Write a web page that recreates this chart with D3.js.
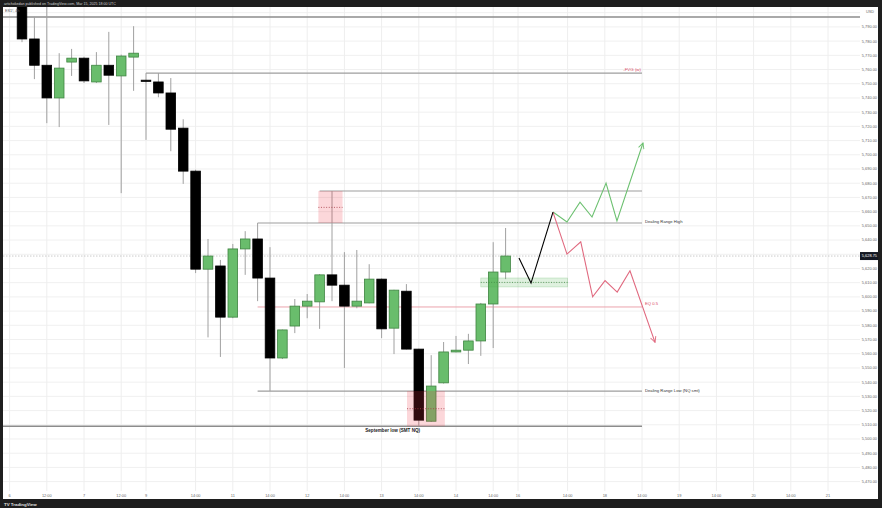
<!DOCTYPE html>
<html><head><meta charset="utf-8">
<script src="https://cdn.jsdelivr.net/npm/d3@7"></script>
<style>html,body{margin:0;padding:0;background:#1e1e1e;overflow:hidden}svg{display:block}</style>
</head><body><svg id="c" width="882" height="508"></svg>
<script>
// ---------- DATA ----------
const symbolLabel = "ES1!, 4h";
const headerText = "artichokedan published on TradingView.com, Mar 15, 2025 18:00 UTC";
const barIndex = d3.range(40);
const opens  = [5810,5781.5,5763,5740,5765.25,5768,5751.25,5763,5755.5,5768.75,5752.5,5751.25,5743.5,5718.75,5688.5,5619.5,5621.75,5585.75,5633.75,5640.75,5613.25,5557,5579.5,5593.5,5596.5,5615.5,5608.25,5593.5,5595.75,5612.5,5578,5604,5563.25,5512.5,5539.5,5561.25,5562.5,5569,5595,5617.5];
const highs  = [5815,5797,5806,5771.5,5774.5,5769,5772.25,5786.5,5770.5,5790.5,5757.5,5757.5,5754,5725,5689.5,5640.75,5626,5637.25,5646.25,5652,5635,5577,5598.5,5602,5616,5674.5,5631.5,5633,5623,5613,5605,5609,5563.5,5559,5568.25,5572.5,5574,5595.75,5638.5,5648.5];
const lows   = [5779.25,5753.25,5722.25,5719.5,5755.5,5750.5,5750.5,5721,5673,5745,5710.5,5740.5,5702.5,5679.5,5616.75,5571.5,5557.75,5585,5615.5,5597,5533.75,5556.25,5574.5,5585,5577.5,5597,5550,5592,5595.5,5571,5559.75,5563,5509,5512,5539,5561,5552.75,5558.5,5564,5612.5];
const closes = [5781.5,5763,5740,5761,5768,5752,5763,5756,5769.5,5771.5,5751.75,5743.5,5718,5688.5,5619.5,5628.75,5585.75,5633.75,5640.75,5613.25,5557,5576.75,5593.5,5597,5615.5,5608.25,5593.5,5597,5612.5,5577.5,5604.75,5563.25,5513.25,5537.25,5561.25,5562.5,5569,5595,5617.5,5628.75];

const timeTickIndex  = [-1,2,5,8,10,14,17,20,23,26,29,32,35,38,40,44,47,50,53,56,59,62,65];
const timeTickLabels = ["6","12:00","7","12:00","9","14:00","11","14:00","12","14:00","13","14:00","14","14:00","16","14:00","18","14:00","19","14:00","20","14:00","21"];
const priceTicks = d3.range(5470, 5791, 10);
const lastPrice = 5628.75;

// horizontal levels (price, start bar, end bar, label)
const levelPrices = [5797, 5757.5, 5674.5, 5652, 5592.9, 5533.75, 5509];
const levelStart  = [-2, 10, 24, 19, 19, 19, -2];
const levelEnd    = [67.6, 50, 50, 50, 50, 50, 50];
const levelLabels = ["", "-FVG (w)", "", "Dealing Range High", "EQ 0.5", "Dealing Range Low (NQ smt)", "September low (SMT NQ)"];

// zones: [barStart, barEnd, priceLow, priceHigh, midPrice]
const pinkZones  = [[23.9, 25.85, 5652, 5674.5, 5663], [31.05, 34.1, 5509, 5533.75, 5521.3]];
const greenZones = [[37, 44, 5607, 5613.3, 5610.2]];

// projection paths: [bar, price]
const blackPath = [[40.08,5627.3],[41.05,5609.7],[42.82,5659.7]];
const greenPath = [[42.82,5659.7],[43.95,5652.7],[45.0,5666.7],[45.97,5656.2],[47.1,5680.1],[47.98,5653.4],[50.08,5708.3]];
const redPath   = [[42.82,5659.7],[43.95,5630.1],[45.06,5638.8],[46.02,5600.1],[47.02,5611.4],[48.0,5603.4],[49.03,5618.4],[51.05,5568.0]];

// ---------- LAYOUT ----------
const W = 882, H = 508;
const plot = {left: 3, right: 860, top: 7, bottom: 491};
const svg = d3.select("#c");
const font = "'Liberation Sans', Arial, sans-serif";

const x = d3.scaleLinear().domain([-1.5, 65.5]).range([3.4, 834.2]);
const y = d3.scaleLinear().domain([5463.4, 5804]).range([491, 7]);
const bodyW = 9.6;

// backgrounds
svg.append("rect").attr("width", W).attr("height", H).attr("fill", "#1e1e1e");
svg.append("rect").attr("x", 3).attr("y", 7).attr("width", 875).attr("height", 492).attr("fill", "#ffffff");

// header
svg.append("text").attr("x", 4).attr("y", 5).attr("font-family", font).attr("font-size", 3.6)
  .attr("fill", "#cfcfcf").text(headerText);
// footer logo
svg.append("text").attr("x", 4).attr("y", 505.5).attr("font-family", font).attr("font-size", 4.4)
  .attr("font-weight", "bold").attr("fill", "#e0e0e0").text("TV TradingView");

svg.append("defs").append("clipPath").attr("id", "pc").append("rect")
  .attr("x", plot.left).attr("y", plot.top).attr("width", plot.right - plot.left).attr("height", plot.bottom - plot.top);

const g = svg.append("g").attr("clip-path", "url(#pc)");

// grid
g.selectAll("line.hg").data(d3.range(5470, 5801, 10)).join("line")
  .attr("x1", plot.left).attr("x2", plot.right)
  .attr("y1", d => y(d)).attr("y2", d => y(d))
  .attr("stroke", "#f0f0f0").attr("stroke-width", 1);
g.selectAll("line.vg").data(timeTickIndex).join("line")
  .attr("x1", d => x(d)).attr("x2", d => x(d))
  .attr("y1", plot.top).attr("y2", plot.bottom)
  .attr("stroke", "#eeeeee").attr("stroke-width", 1);

// last price dotted line
g.append("line").attr("x1", plot.left).attr("x2", plot.right)
  .attr("y1", y(lastPrice)).attr("y2", y(lastPrice))
  .attr("stroke", "#bdbdbd").attr("stroke-width", 0.8).attr("stroke-dasharray", "1.5,1.5");

// levels
const levelColor = (i) => i === 4 ? "#eba3ad" : (i === 0 || i === 6 ? "#8c8c8c" : "#9e9e9e");
const levelWidth = (i) => i === 4 ? 1 : (i === 0 || i === 6 ? 1.4 : 1.2);
levelPrices.forEach((p, i) => {
  g.append("line").attr("x1", x(levelStart[i])).attr("x2", x(levelEnd[i]))
    .attr("y1", y(p)).attr("y2", y(p))
    .attr("stroke", levelColor(i)).attr("stroke-width", levelWidth(i));
});

// candles
const candles = barIndex.map(i => ({i, o: opens[i], h: highs[i], l: lows[i], c: closes[i]}));
g.selectAll("line.wick").data(candles).join("line")
  .attr("x1", d => x(d.i)).attr("x2", d => x(d.i))
  .attr("y1", d => y(d.h)).attr("y2", d => y(d.l))
  .attr("stroke", "#a0a0a0").attr("stroke-width", 1);
g.selectAll("rect.body").data(candles).join("rect")
  .attr("x", d => x(d.i) - bodyW / 2).attr("width", bodyW)
  .attr("y", d => y(Math.max(d.o, d.c)))
  .attr("height", d => Math.max(1.2, Math.abs(y(d.o) - y(d.c))))
  .attr("fill", d => d.c >= d.o ? "#69bd6c" : "#000000")
  .attr("stroke", d => d.c >= d.o ? "#3f8442" : "#000000")
  .attr("stroke-width", 0.8);

// zones
pinkZones.forEach(z => {
  g.append("rect").attr("x", x(z[0])).attr("width", x(z[1]) - x(z[0]))
    .attr("y", y(z[3])).attr("height", y(z[2]) - y(z[3]))
    .attr("fill", "rgba(242,54,69,0.2)");
  g.append("line").attr("x1", x(z[0])).attr("x2", x(z[1])).attr("y1", y(z[4])).attr("y2", y(z[4]))
    .attr("stroke", "#a33a44").attr("stroke-width", 0.8).attr("stroke-dasharray", "1,1.6");
});
greenZones.forEach(z => {
  g.append("rect").attr("x", x(z[0])).attr("width", x(z[1]) - x(z[0]))
    .attr("y", y(z[3])).attr("height", y(z[2]) - y(z[3]))
    .attr("fill", "rgba(76,175,80,0.18)").attr("stroke", "rgba(76,175,80,0.35)").attr("stroke-width", 0.6);
  g.append("line").attr("x1", x(z[0])).attr("x2", x(z[1])).attr("y1", y(z[4])).attr("y2", y(z[4]))
    .attr("stroke", "#3f8a43").attr("stroke-width", 0.8).attr("stroke-dasharray", "1,1.6");
});

// projections
const defs = svg.select("defs");
function marker(id, color) {
  defs.append("marker").attr("id", id).attr("viewBox", "0 0 10 10").attr("refX", 9).attr("refY", 5)
    .attr("markerWidth", 7).attr("markerHeight", 7).attr("orient", "auto").attr("markerUnits", "userSpaceOnUse")
    .append("path").attr("d", "M1,1 L9,5 L1,9").attr("fill", "none").attr("stroke", color).attr("stroke-width", 1.3);
}
marker("ag", "#6cc070"); marker("ar", "#e0697f");
const line = d3.line().x(d => x(d[0])).y(d => y(d[1]));
g.append("path").attr("d", line(greenPath)).attr("fill", "none").attr("stroke", "#6cc070").attr("stroke-width", 1.1).attr("marker-end", "url(#ag)");
g.append("path").attr("d", line(redPath)).attr("fill", "none").attr("stroke", "#e0697f").attr("stroke-width", 1.1).attr("marker-end", "url(#ar)");
g.append("path").attr("d", line(blackPath)).attr("fill", "none").attr("stroke", "#000").attr("stroke-width", 1.1);

// level labels
const lblFs = 4.2;
svg.append("text").attr("x", x(levelEnd[1]) - 1).attr("y", y(levelPrices[1]) - 2)
  .attr("text-anchor", "end").attr("font-family", font).attr("font-size", 4.4).attr("fill", "#d94a65").text(levelLabels[1]);
[3, 5].forEach(i => {
  svg.append("text").attr("x", x(levelEnd[i]) + 3).attr("y", y(levelPrices[i]) + 0.5)
    .attr("font-family", font).attr("font-size", lblFs).attr("fill", "#333").text(levelLabels[i]);
});
svg.append("text").attr("x", x(levelEnd[4]) + 3).attr("y", y(levelPrices[4]) - 1.5)
  .attr("font-family", font).attr("font-size", lblFs).attr("fill", "#d94a65").text(levelLabels[4]);
svg.append("text").attr("x", (x(-1.5) + x(levelEnd[6])) / 2 + 70).attr("y", y(levelPrices[6]) + 5.5)
  .attr("text-anchor", "middle").attr("font-family", font).attr("font-size", 4.6).attr("font-weight", "bold")
  .attr("fill", "#222").text(levelLabels[6]);

// symbol label
svg.append("text").attr("x", 5).attr("y", 12).attr("font-family", font).attr("font-size", 3.8)
  .attr("fill", "#555").text(symbolLabel);

// price axis
svg.append("text").attr("x", 870).attr("y", 13).attr("text-anchor", "middle").attr("font-family", font)
  .attr("font-size", 3.8).attr("fill", "#666").text("USD");
const fmt = d3.format(",.2f");
svg.selectAll("text.pt").data(priceTicks.filter(p => Math.abs(y(p) - y(lastPrice)) > 7)).join("text")
  .attr("x", 877).attr("y", d => y(d) + 1.4).attr("text-anchor", "end")
  .attr("font-family", font).attr("font-size", 3.9).attr("fill", "#666").text(d => fmt(d));
svg.append("rect").attr("x", 860).attr("y", y(lastPrice) - 4).attr("width", 18).attr("height", 8).attr("fill", "#131722");
svg.append("text").attr("x", 877).attr("y", y(lastPrice) + 1.4).attr("text-anchor", "end")
  .attr("font-family", font).attr("font-size", 3.9).attr("fill", "#fff").text(fmt(lastPrice));

// time axis
svg.selectAll("text.tt").data(timeTickIndex).join("text")
  .attr("x", d => x(d)).attr("y", 496.5).attr("text-anchor", "middle")
  .attr("font-family", font).attr("font-size", 3.9).attr("fill", "#666")
  .text((d, i) => timeTickLabels[i]);
</script></body></html>
